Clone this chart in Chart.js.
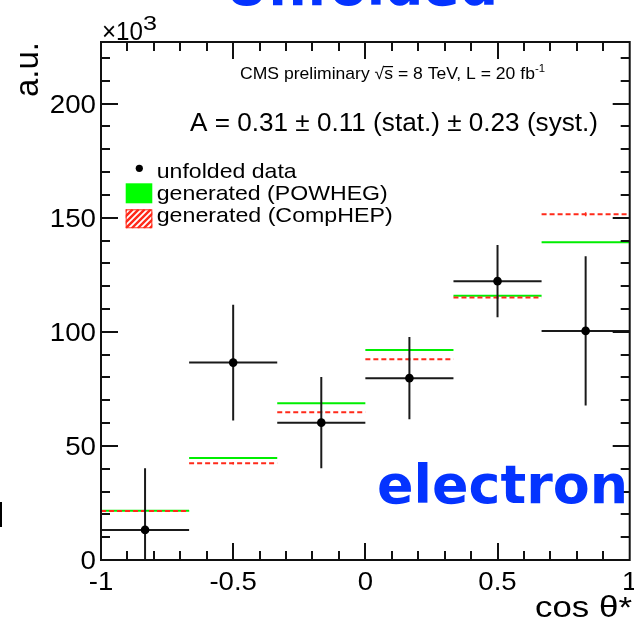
<!DOCTYPE html>
<html>
<head>
<meta charset="utf-8">
<script src="https://cdn.jsdelivr.net/npm/chart.js@4.4.1/dist/chart.umd.min.js"></script>
<style>
  html, body { margin: 0; padding: 0; background: #fff; }
  canvas { display: block; }
</style>
</head>
<body>
<canvas id="asymChart" width="634" height="618"></canvas>
<script>
// cos theta* bins and the values (units of 10^3)
const binEdges = [-1, -2/3, -1/3, 0, 1/3, 2/3, 1];
const dataVals = [13.2, 86.5, 60.2, 79.7, 122.2, 100.4];
const dataErr = [27.0, 25.4, 20.0, 18.0, 15.8, 32.7];
const powhegVals = [21.6, 44.7, 68.7, 92.0, 115.8, 139.2];
const comphepVals = [21.5, 42.4, 64.8, 88.0, 115.0, 151.5];
const comphepErr = [0.4, 0.5, 0.5, 0.6, 0.7, 0.9];

const xTicks = [-1, -0.5, 0, 0.5, 1];
const xTickLabels = ['-1', '-0.5', '0', '0.5', '1'];
const yTicks = [0, 50, 100, 150, 200];
const yTickLabels = ['0', '50', '100', '150', '200'];
const legendLabels = ['unfolded data', 'generated (POWHEG)', 'generated (CompHEP)'];

const BLUE = '#0433ff';
const GREEN = '#00ee00';
const RED = '#ff2a1a';
const ROOT_FONT = '"Liberation Sans", Arial, sans-serif';
const SLIDE_FONT = 'bold 54px "DejaVu Sans", Verdana, sans-serif';

const centers = binEdges.slice(0, -1).map((e, i) => (e + binEdges[i + 1]) / 2);

// horizontal segment per bin, broken by null points
function binSegments(vals) {
  const pts = [];
  vals.forEach((v, i) => {
    pts.push({ x: binEdges[i], y: v }, { x: binEdges[i + 1], y: v }, { x: binEdges[i + 1], y: null });
  });
  return pts;
}

// vertical error bar per bin centre
function errorSegments(vals, errs) {
  const pts = [];
  vals.forEach((v, i) => {
    pts.push({ x: centers[i], y: v - errs[i] }, { x: centers[i], y: v + errs[i] }, { x: centers[i], y: null });
  });
  return pts;
}

// draw text squeezed/stretched to a given width
function fitText(ctx, str, x, y, font, width, align) {
  ctx.save();
  ctx.font = font;
  const sx = width ? width / ctx.measureText(str).width : 1;
  ctx.translate(x, y);
  ctx.scale(sx, 1);
  ctx.textAlign = align || 'left';
  ctx.textBaseline = 'alphabetic';
  ctx.fillText(str, 0, 0);
  ctx.restore();
}

const rootDecor = {
  id: 'rootDecor',
  afterDraw(chart) {
    const ctx = chart.ctx;
    const xs = chart.scales.x, ys = chart.scales.y;
    const a = chart.chartArea;

    ctx.save();
    ctx.strokeStyle = '#111';
    ctx.fillStyle = '#111';
    ctx.lineWidth = 2;
    ctx.strokeRect(a.left, a.top, a.right - a.left, a.bottom - a.top);

    // inward ticks, ROOT style
    ctx.beginPath();
    for (let v = 10; v < ys.max; v += 10) {
      const py = Math.round(ys.getPixelForValue(v));
      const len = v % 50 === 0 ? 17 : 9;
      ctx.moveTo(a.left, py); ctx.lineTo(a.left + len, py);
      ctx.moveTo(a.right, py); ctx.lineTo(a.right - len, py);
    }
    for (let k = -9; k <= 9; k++) {
      const px = Math.round(xs.getPixelForValue(k / 10));
      const len = k % 5 === 0 ? 17 : 9;
      ctx.moveTo(px, a.bottom); ctx.lineTo(px, a.bottom - len);
      ctx.moveTo(px, a.top); ctx.lineTo(px, a.top + len);
    }
    ctx.stroke();

    // tick labels
    ctx.fillStyle = '#000';
    yTicks.forEach((v, i) => {
      const w = yTickLabels[i].length * 15.4;
      fitText(ctx, yTickLabels[i], 96, ys.getPixelForValue(v) + 9, '26px ' + ROOT_FONT, w, 'right');
    });
    xTicks.forEach((v, i) => {
      ctx.save();
      ctx.font = '26px ' + ROOT_FONT;
      ctx.translate(xs.getPixelForValue(v), 590);
      ctx.scale(1.06, 1);
      ctx.textAlign = 'center';
      ctx.fillText(xTickLabels[i], 0, 0);
      ctx.restore();
    });

    // axis titles
    ctx.save();
    ctx.translate(38, 97);
    ctx.rotate(-Math.PI / 2);
    ctx.font = '33px ' + ROOT_FONT;
    ctx.scale(55 / ctx.measureText('a.u.').width, 1);
    ctx.fillText('a.u.', 0, 0);
    ctx.restore();
    fitText(ctx, 'cos θ*', 632, 617, '29px ' + ROOT_FONT, 97, 'right');
    fitText(ctx, '×10', 102, 40, '25px ' + ROOT_FONT, 41, 'left');
    fitText(ctx, '3', 143, 30, '20px ' + ROOT_FONT, 14, 'left');

    // CMS label with sqrt(s) and superscript
    ctx.save();
    ctx.font = '17px ' + ROOT_FONT;
    const p1 = 'CMS preliminary ', p2 = '√', p3 = 's', p4 = ' = 8 TeV, L = 20 fb';
    const w1 = ctx.measureText(p1).width, w2 = ctx.measureText(p2).width;
    const w3 = ctx.measureText(p3).width, w4 = ctx.measureText(p4).width;
    ctx.font = '11px ' + ROOT_FONT;
    const w5 = ctx.measureText('-1').width;
    const total = w1 + w2 + w3 + w4 + w5;
    ctx.translate(240, 79);
    ctx.scale(305 / total, 1);
    ctx.font = '17px ' + ROOT_FONT;
    ctx.fillText(p1, 0, 0);
    ctx.fillText(p2, w1, 0);
    ctx.fillText(p3, w1 + w2, 0);
    ctx.fillRect(w1 + w2 - 1, -13, w3 + 1, 1.2);
    ctx.fillText(p4, w1 + w2 + w3, 0);
    ctx.font = '11px ' + ROOT_FONT;
    ctx.fillText('-1', w1 + w2 + w3 + w4, -7);
    ctx.restore();

    fitText(ctx, 'A = 0.31 ± 0.11 (stat.) ± 0.23 (syst.)', 190, 131, '26px ' + ROOT_FONT, 408, 'left');

    // legend
    ctx.beginPath();
    ctx.arc(139.3, 168.3, 3.6, 0, Math.PI * 2);
    ctx.fill();
    fitText(ctx, legendLabels[0], 156.7, 178.3, '21px ' + ROOT_FONT, 140, 'left');
    ctx.fillStyle = '#00ff00';
    ctx.fillRect(125.7, 183.3, 26.6, 20);
    ctx.fillStyle = '#000';
    fitText(ctx, legendLabels[1], 156.7, 200, '21px ' + ROOT_FONT, 231, 'left');
    ctx.save();
    ctx.beginPath();
    ctx.rect(125.7, 209.3, 26.6, 19);
    ctx.clip();
    ctx.strokeStyle = RED;
    ctx.lineWidth = 2.4;
    ctx.beginPath();
    for (let k = -30; k < 40; k += 6) {
      ctx.moveTo(125.7 + k, 228.3);
      ctx.lineTo(125.7 + k + 19, 209.3);
    }
    ctx.stroke();
    ctx.lineWidth = 2;
    ctx.strokeRect(125.7, 209.3, 26.6, 19);
    ctx.restore();
    fitText(ctx, legendLabels[2], 156.7, 221.7, '21px ' + ROOT_FONT, 236, 'left');

    // overlay labels from the slide
    ctx.fillStyle = BLUE;
    fitText(ctx, 'Unfolded', 361.5, 5, SLIDE_FONT, 273, 'center');
    fitText(ctx, 'electron', 377, 503, SLIDE_FONT, 251, 'left');

    // clipped remnant at the left edge
    ctx.fillStyle = '#000';
    ctx.fillRect(0, 502, 2, 25);
    ctx.restore();
  }
};

const ctx = document.getElementById('asymChart').getContext('2d');
new Chart(ctx, {
  type: 'scatter',
  data: {
    datasets: [
      { label: legendLabels[0], data: centers.map((c, i) => ({ x: c, y: dataVals[i] })),
        pointRadius: 4.3, pointBackgroundColor: '#000', pointBorderWidth: 0, showLine: false, order: 0 },
      { label: 'data bin width', data: binSegments(dataVals), showLine: true, spanGaps: false,
        borderColor: '#1a1a1a', borderWidth: 2, pointRadius: 0, order: 1 },
      { label: 'data error', data: errorSegments(dataVals, dataErr), showLine: true, spanGaps: false,
        borderColor: '#1a1a1a', borderWidth: 2, pointRadius: 0, order: 1 },
      { label: legendLabels[2], data: binSegments(comphepVals), showLine: true, spanGaps: false,
        borderColor: RED, borderWidth: 2, borderDash: [5, 3], pointRadius: 0, order: 2 },
      { label: 'CompHEP error', data: errorSegments(comphepVals, comphepErr), showLine: true, spanGaps: false,
        borderColor: RED, borderWidth: 1.5, pointRadius: 0, order: 2 },
      { label: legendLabels[1], data: binSegments(powhegVals), showLine: true, spanGaps: false,
        borderColor: GREEN, borderWidth: 2, pointRadius: 0, order: 3 }
    ]
  },
  options: {
    responsive: false,
    animation: false,
    events: [],
    layout: { padding: { top: 42, right: 2, left: 0, bottom: 0 } },
    plugins: { legend: { display: false }, tooltip: { enabled: false } },
    scales: {
      x: {
        type: 'linear', min: -1, max: 1,
        grid: { display: false }, border: { display: false }, ticks: { display: false },
        afterFit: s => { s.height = 58; }
      },
      y: {
        type: 'linear', min: 0, max: 227,
        grid: { display: false }, border: { display: false }, ticks: { display: false },
        afterFit: s => { s.width = 101; }
      }
    }
  },
  plugins: [rootDecor]
});
</script>
</body>
</html>
